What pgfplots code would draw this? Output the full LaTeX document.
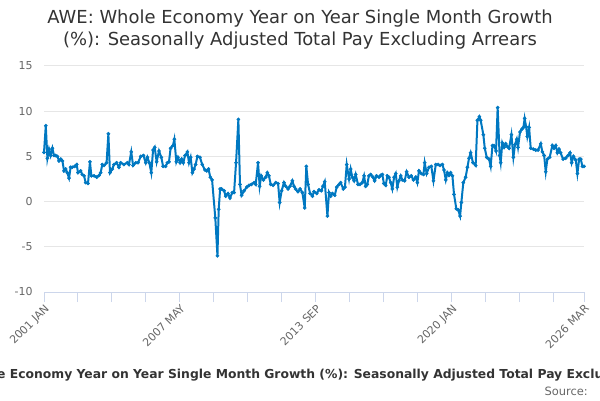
\documentclass[border=0pt]{standalone}
\usepackage{fontspec}
\setmainfont{DejaVu Sans}
\usepackage{pgfplots}
\pgfplotsset{compat=1.18}
\definecolor{lineblue}{RGB}{0,120,193}
\definecolor{gridgray}{RGB}{230,230,230}
\definecolor{axisblue}{RGB}{204,214,235}
\definecolor{labelgray}{RGB}{102,102,102}
\definecolor{titlegray}{RGB}{51,51,51}
\begin{document}
\begin{tikzpicture}[x=1bp,y=1bp]
\useasboundingbox (0,0) rectangle (600,400);
\clip (0,0) rectangle (600,400);
\node[align=center, font=\fontsize{18}{22}\selectfont, text=titlegray] at (300,370)
  {AWE: Whole Economy Year on Year Single Month Growth\\(\%): Seasonally Adjusted Total Pay Excluding Arrears};
\node[font=\bfseries\fontsize{12.4}{15}\selectfont, text=titlegray, anchor=base] at (306,22)
  {AWE: Whole Economy Year on Year Single Month Growth (\%): Seasonally Adjusted Total Pay Excluding Arrears};
\node[font=\fontsize{11.5}{14}\selectfont, text=labelgray, anchor=base east, inner sep=0pt] at (588,5) {Source:};
\begin{axis}[
  scale only axis, width=540bp, height=226bp,
  at={(44bp,108bp)}, anchor=south west,
  xmin=0, xmax=302, ymin=-10, ymax=15,
  axis x line*=bottom, axis y line*=left,
  x axis line style={color=axisblue, line width=1bp},
  y axis line style={draw=none},
  ytick={-10,-5,0,5,10,15},
  ymajorgrids, grid style={color=gridgray, line width=1bp},
  xtick={0,76,152,228,302},
  xticklabels={2001 JAN,2007 MAY,2013 SEP,2020 JAN,2026 MAR},
  minor xtick={19,38,57,95,114,133,171,190,209,247,266,285},
  tick align=outside,
  major tick length=10bp, minor tick length=10bp,
  xtick style={color=axisblue, line width=1bp},
  minor x tick style={color=axisblue, line width=1bp},
  ytick style={draw=none},
  /pgf/number format/assume math mode=true,
  tick label style={font=\fontsize{11}{13}\selectfont, text=labelgray},
  xticklabel style={rotate=45, anchor=north east, inner sep=1bp},
  yticklabel style={xshift=2bp},
  clip=false,
]
\addplot[color=lineblue, line width=2bp, mark=*, mark size=1.6bp, mark options={fill=lineblue, draw=lineblue, line width=0.5bp}] coordinates {
(0,5.44)(1,8.4)(1.9,4.8)(2.8,5.8)(3.7,5.1)(4.7,5.9)(5.6,5.1)(6.5,5.1)(7.5,5.0)(8.4,4.5)
(9.4,4.7)(10.3,4.5)(11.2,3.4)(12.1,3.6)(13.0,3.2)(14.0,2.6)(14.9,3.8)(15.8,3.8)(17.2,3.9)(18.3,4.1)
(19.0,3.2)(20.5,3.4)(21.4,3.0)(22.4,2.85)(23.3,2.1)(24.6,2.0)(25.7,4.4)(26.5,2.85)(28.0,2.85)(29.5,2.7)
(30.8,2.9)(31.7,3.2)(32.6,4.1)(33.6,4.0)(35.0,4.3)(36.0,7.5)(36.9,3.2)(38.2,3.6)(39.1,4.1)(40.6,4.3)
(41.9,3.8)(42.9,4.3)(44.7,4.1)(46.6,4.3)(47.5,4.1)(48.8,5.5)(49.8,4.0)(51.3,4.3)(52.6,4.3)(54.1,5.0)
(55.6,5.1)(56.9,4.3)(57.8,4.9)(58.9,4.3)(60.0,3.2)(61.0,5.7)(61.9,6.0)(63.0,4.4)(64.3,5.6)(65.6,4.9)
(66.6,3.9)(68.0,3.9)(69.0,4.3)(69.9,4.4)(70.8,5.9)(72.1,6.2)(72.9,6.9)(74.0,4.4)(74.9,4.9)(76.1,4.3)
(77.0,4.7)(77.9,4.3)(78.9,5.1)(80.2,5.5)(81.1,4.3)(82.0,4.9)(83.0,3.2)(83.9,3.6)(84.8,4.1)(85.8,5.0)
(87.2,4.9)(88.5,4.1)(90,3.5)(91,3.4)(92,3.6)(93,2.7)(94,2.4)(95.8,-1.8)(97,-6.0)(97.7,-0.85)
(98.5,1.4)(99.3,1.4)(100.7,1.2)(101.6,0.6)(102.9,0.9)(104.0,0.4)(105.3,1.0)(106.3,1.0)(107.4,4.3)(108.7,9.1)
(109.6,1.9)(110.5,0.7)(111.9,1.2)(113.4,1.6)(114.7,1.8)(116.0,1.9)(117.5,2.1)(118.4,1.9)(119.7,4.3)(120.6,1.7)
(121.5,2.85)(122.7,2.4)(124.0,2.7)(124.9,3.2)(125.8,2.85)(126.8,1.9)(128.1,1.8)(129.6,2.1)(130.9,2.0)(131.8,-0.1)
(132.9,1.2)(134.2,2.1)(135.2,1.7)(136.5,1.4)(137.6,1.7)(138.9,2.3)(139.8,1.7)(140.7,1.4)(142.0,1.1)(143.2,1.4)
(144.5,1.0)(145.8,-0.7)(146.7,3.9)(147.7,1.9)(148.8,0.9)(150.1,0.6)(151.0,1.1)(152.5,0.9)(153.8,1.3)(155.1,1.2)
(156.0,1.7)(157.0,2.2)(158.5,-1.6)(159.4,1.0)(160.3,0.6)(161.3,0.9)(162.6,0.7)(163.7,1.6)(165.0,1.9)(165.9,2.1)
(167.4,1.4)(168.3,1.6)(169.3,4.1)(170.6,2.5)(171.5,3.6)(172.4,2.7)(173.4,2.3)(174.3,3.0)(175.6,1.9)(176.7,1.9)
(178.0,2.1)(179.0,2.85)(179.9,1.7)(180.8,1.9)(181.7,2.85)(182.7,3.0)(184.0,2.7)(184.9,2.3)(186.0,2.85)(187.4,2.7)
(188.3,2.9)(189.2,3.0)(190.1,2.0)(191.1,1.8)(192.0,2.85)(192.9,2.7)(193.9,2.1)(194.8,1.4)(195.8,2.7)(196.7,3.1)
(197.6,1.6)(198.5,2.3)(199.5,2.85)(200.4,2.4)(201.7,2.3)(202.8,3.3)(204.1,2.7)(205.4,2.85)(206.6,2.4)(207.9,2.7)
(208.8,2.1)(209.7,3.4)(211.0,3.1)(212.2,3.0)(212.9,4.3)(214.0,3.1)(215.3,3.8)(216.6,3.9)(217.8,2.3)(219.1,4.1)
(220.4,4.1)(221.5,4.0)(222.8,4.1)(223.7,3.5)(224.7,2.4)(225.6,3.2)(226.5,2.9)(227.4,3.2)(228.4,2.85)(229.3,0.8)
(230.6,-0.8)(231.6,-0.9)(232.7,-1.6)(233.4,-0.1)(234.5,2.1)(235.8,2.7)(236.8,3.8)(237.7,4.8)(238.6,5.4)(239.9,4.3)
(241.4,4.0)(242.4,9.0)(243.5,9.4)(244.2,9.0)(245.7,7.4)(246.5,5.9)(247.6,4.9)(248.9,4.7)(249.8,3.9)(250.8,6.2)
(251.7,6.2)(252.8,5.6)(253.7,10.4)(254.8,5.1)(255.4,4.3)(256.3,6.5)(257.3,6.0)(258.2,6.4)(259.1,6.1)(260.1,5.9)
(261.4,7.4)(262.5,4.9)(263.4,6.3)(264.4,6.9)(265.1,6.0)(266.2,7.7)(267.2,8.0)(268.1,8.2)(268.8,9.2)(269.6,8.3)
(270.3,7.2)(271.3,8.2)(272.2,5.9)(273.7,5.8)(275.0,5.7)(276.3,5.7)(277.8,6.4)(278.7,5.5)(279.7,5.1)(280.6,3.3)
(281.5,4.7)(282.8,4.9)(284.3,6.2)(285.2,5.9)(286.2,6.2)(287.1,5.4)(288.0,5.8)(288.9,5.4)(290.3,4.7)(291.7,4.8)
(293.1,5.1)(294.2,5.4)(295.1,4.3)(296.1,5.0)(297.4,4.6)(298.3,3.1)(299.3,4.7)(300.2,4.7)(301.1,3.9)(302.0,3.9)
};
\end{axis}
\end{tikzpicture}
\end{document}
